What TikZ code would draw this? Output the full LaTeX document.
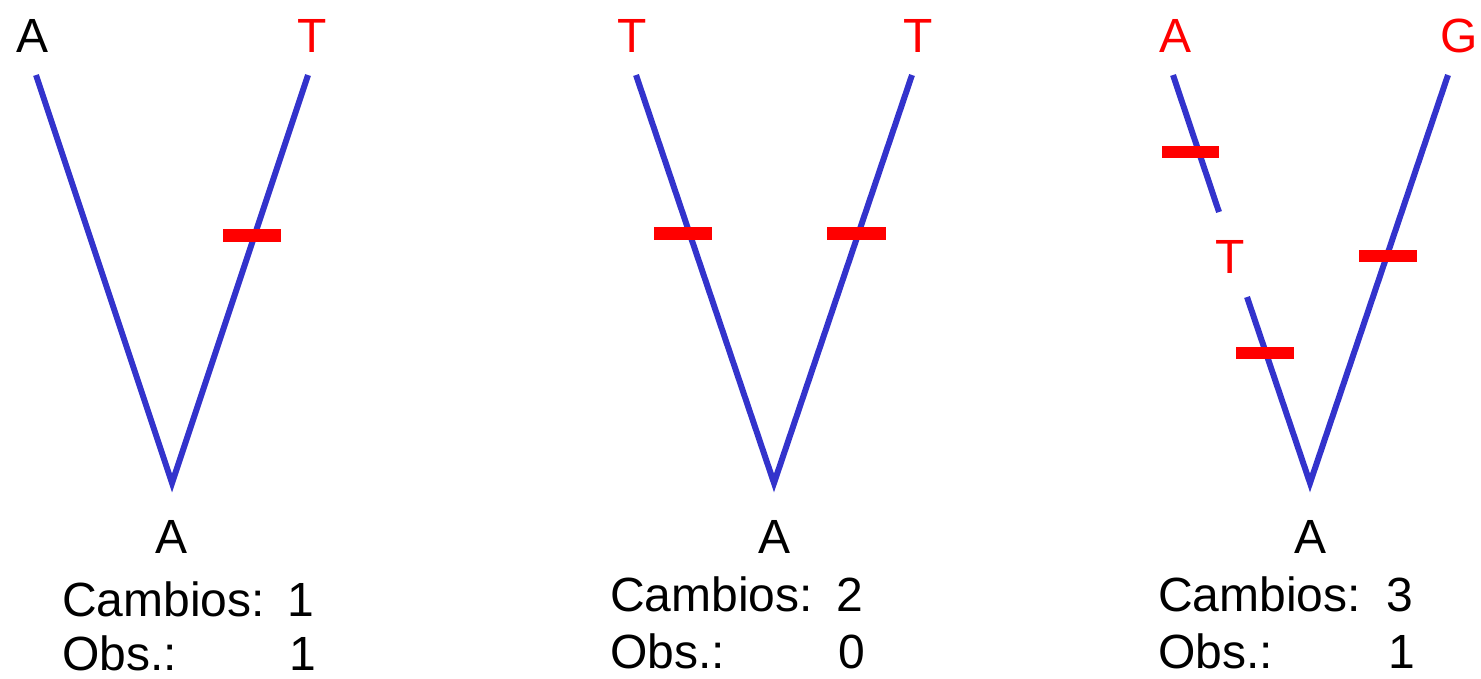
\documentclass[tikz,border=0pt]{standalone}
\usepackage{fontspec}
\setmainfont{Liberation Sans}
\definecolor{branchblue}{RGB}{51,51,204}
\definecolor{mutred}{RGB}{255,0,0}
\tikzset{
  branch/.style={draw=branchblue, line width=6pt},
  tick/.style={draw=mutred, line width=12.5pt},
  lbl/.style={inner sep=0pt, anchor=base, font=\fontsize{48}{58}\selectfont},
  lblw/.style={inner sep=0pt, anchor=base west, font=\fontsize{48}{58}\selectfont},
  red lbl/.style={lbl, text=mutred}
}
\begin{document}
\begin{tikzpicture}[x=1pt,y=-1pt]
\useasboundingbox (0,0) rectangle (1481,678);
% ---------- Tree 1 ----------
\node[lbl] (l1a) at (33,52) {A};
\node[red lbl] (l1b) at (312,52) {T};
\coordinate (t1a) at (36,75);
\coordinate (t1b) at (308,75);
\coordinate (r1) at (172,483);
\draw[branch] (t1a) -- (r1) -- (t1b);
\coordinate (m1a) at (223,235.5);
\coordinate (m1b) at (281,235.5);
\draw[tick] (m1a) -- (m1b);
\node[lbl] (root1) at (172,553) {A};
\node[lblw] (c1) at (62,616) {Cambios:};
\node[lbl] (c1n) at (301,616) {1};
\node[lblw] (o1) at (62,670) {Obs.:};
\node[lbl] (o1n) at (303,670) {1};
% ---------- Tree 2 ----------
\node[red lbl] (l2a) at (632,52) {T};
\node[red lbl] (l2b) at (918,52) {T};
\coordinate (t2a) at (636,75);
\coordinate (t2b) at (912,75);
\coordinate (r2) at (774,483);
\draw[branch] (t2a) -- (r2) -- (t2b);
\coordinate (m2a) at (654,233.5);
\coordinate (m2b) at (712,233.5);
\draw[tick] (m2a) -- (m2b);
\coordinate (m2c) at (827,233.5);
\coordinate (m2d) at (886,233.5);
\draw[tick] (m2c) -- (m2d);
\node[lbl] (root2) at (774,553) {A};
\node[lblw] (c2) at (610,611) {Cambios:};
\node[lbl] (c2n) at (850,611) {2};
\node[lblw] (o2) at (610,668) {Obs.:};
\node[lbl] (o2n) at (852,668) {0};
% ---------- Tree 3 ----------
\node[red lbl] (l3a) at (1175,52) {A};
\node[red lbl] (l3b) at (1459,52) {G};
\coordinate (t3a) at (1173,75);
\coordinate (t3b) at (1448,75);
\coordinate (r3) at (1310,483);
\coordinate (g3a) at (1219,212);
\coordinate (g3b) at (1247,297);
\node[red lbl] (mid3) at (1230,273) {T};
\draw[branch] (t3a) -- (g3a);
\draw[branch] (g3b) -- (r3) -- (t3b);
\coordinate (m3a) at (1162,152);
\coordinate (m3b) at (1219,152);
\draw[tick] (m3a) -- (m3b);
\coordinate (m3c) at (1236,353);
\coordinate (m3d) at (1294,353);
\draw[tick] (m3c) -- (m3d);
\coordinate (m3e) at (1359,256);
\coordinate (m3f) at (1417,256);
\draw[tick] (m3e) -- (m3f);
\node[lbl] (root3) at (1310,553) {A};
\node[lblw] (c3) at (1158,611) {Cambios:};
\node[lbl] (c3n) at (1400,611) {3};
\node[lblw] (o3) at (1158,668) {Obs.:};
\node[lbl] (o3n) at (1402,668) {1};
\end{tikzpicture}
\end{document}
